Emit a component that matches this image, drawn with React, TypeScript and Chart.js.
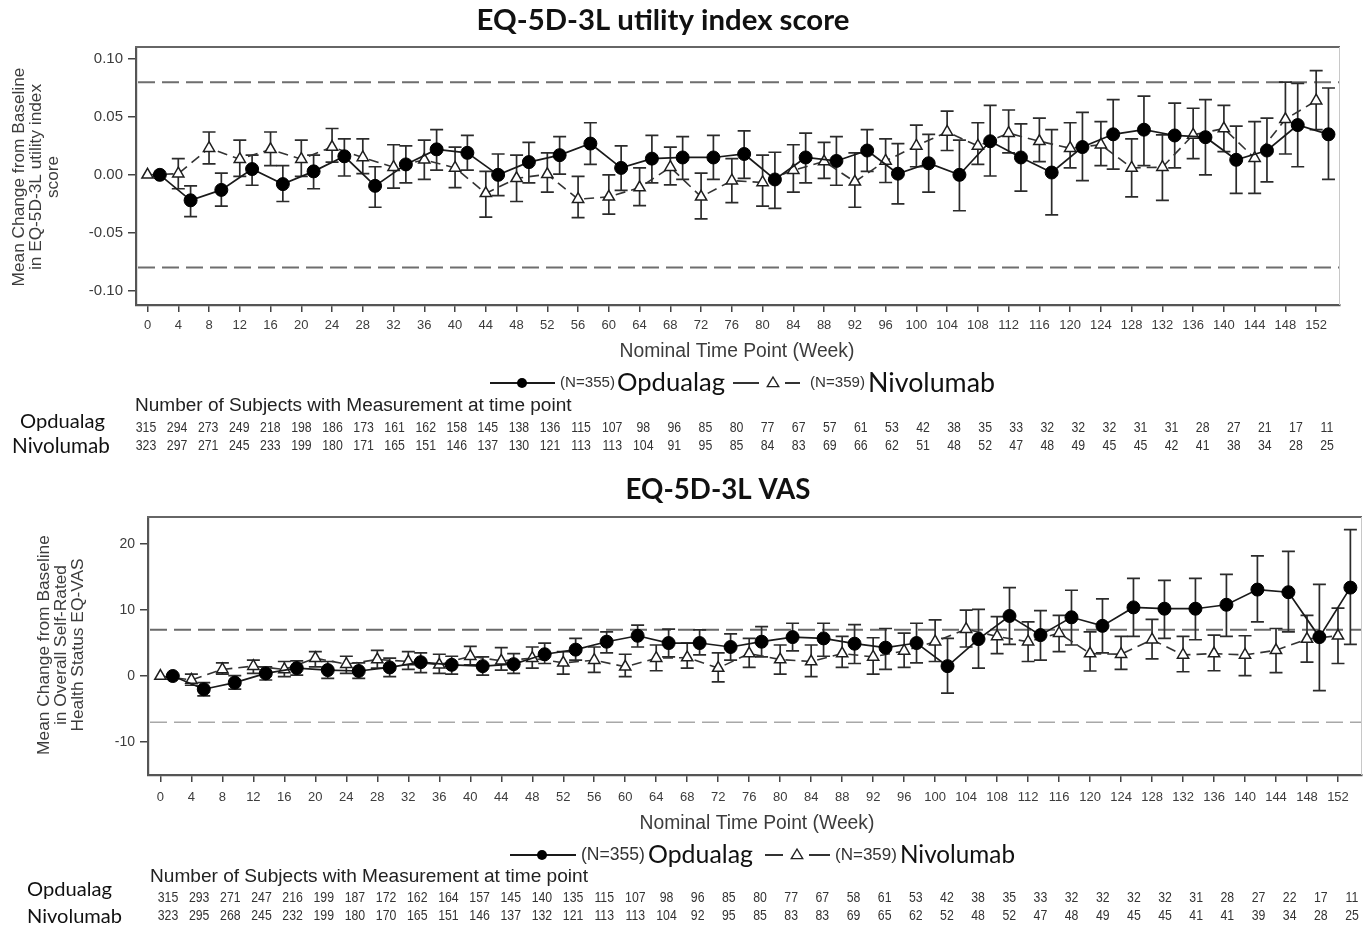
import React, { useEffect, useRef } from "react";
import { Chart, registerables } from "chart.js";

Chart.register(...registerables);

// ---------------- data ----------------
const WEEKS = [0, 4, 8, 12, 16, 20, 24, 28, 32, 36, 40, 44, 48, 52, 56, 60, 64, 68, 72, 76, 80, 84, 88, 92, 96, 100, 104, 108, 112, 116, 120, 124, 128, 132, 136, 140, 144, 148, 152];

// EQ-5D-3L utility index score
const UTIL_OPD_MEAN = [0, -0.022, -0.013, 0.005, -0.008, 0.003, 0.016, -0.0095, 0.009, 0.022, 0.019, 0.0, 0.011, 0.017, 0.027, 0.006, 0.014, 0.015, 0.015, 0.018, -0.004, 0.015, 0.012, 0.021, 0.001, 0.010, 0.0, 0.029, 0.015, 0.002, 0.024, 0.035, 0.039, 0.034, 0.0325, 0.013, 0.021, 0.043, 0.035];
const UTIL_OPD_LO = [null, -0.036, -0.027, -0.009, -0.023, -0.012, -0.001, -0.028, -0.007, 0.004, 0.004, -0.018, -0.007, 0.0006, 0.009, -0.0135, -0.007, -0.004, -0.004, -0.003, -0.029, -0.007, -0.009, 0.003, -0.025, -0.015, -0.031, -0.001, -0.014, -0.0345, -0.005, 0.005, 0.008, 0.006, 0.0, -0.016, -0.006, 0.007, -0.004];
const UTIL_OPD_HI = [null, -0.0095, 0.0014, 0.017, 0.008, 0.017, 0.031, 0.007, 0.025, 0.039, 0.034, 0.018, 0.028, 0.033, 0.045, 0.025, 0.034, 0.033, 0.034, 0.038, 0.0195, 0.036, 0.033, 0.039, 0.027, 0.035, 0.030, 0.060, 0.044, 0.039, 0.054, 0.065, 0.068, 0.062, 0.065, 0.042, 0.049, 0.079, 0.075];
const UTIL_NIV_MEAN = [0, 0.001, 0.023, 0.0135, 0.022, 0.0135, 0.024, 0.015, 0.0066, 0.013, 0.006, -0.016, -0.003, 0.0005, -0.021, -0.019, -0.011, 0.0066, -0.019, -0.005, -0.0066, 0.004, 0.0115, -0.006, 0.012, 0.025, 0.037, 0.025, 0.036, 0.029, 0.023, 0.026, 0.006, 0.0066, 0.0345, 0.040, 0.0144, 0.048, 0.064];
const UTIL_NIV_LO = [null, -0.012, 0.0095, -0.0014, 0.008, -0.0014, 0.011, 0.001, -0.0115, -0.004, -0.011, -0.0365, -0.023, -0.015, -0.037, -0.034, -0.0265, -0.0086, -0.038, -0.024, -0.027, -0.015, -0.003, -0.028, -0.0066, 0.007, 0.021, 0.009, 0.019, 0.0115, 0.006, 0.008, -0.019, -0.022, 0.014, 0.020, -0.016, 0.018, 0.039];
const UTIL_NIV_HI = [null, 0.014, 0.037, 0.030, 0.037, 0.030, 0.040, 0.031, 0.026, 0.030, 0.024, 0.003, 0.017, 0.019, -0.0014, 0.0, 0.006, 0.024, 0.0014, 0.014, 0.017, 0.026, 0.028, 0.019, 0.031, 0.043, 0.055, 0.045, 0.056, 0.049, 0.045, 0.046, 0.031, 0.0345, 0.0575, 0.060, 0.046, 0.080, 0.090];
const UTIL_OPD_N = [315, 294, 273, 249, 218, 198, 186, 173, 161, 162, 158, 145, 138, 136, 115, 107, 98, 96, 85, 80, 77, 67, 57, 61, 53, 42, 38, 35, 33, 32, 32, 32, 31, 31, 28, 27, 21, 17, 11];
const UTIL_NIV_N = [323, 297, 271, 245, 233, 199, 180, 171, 165, 151, 146, 137, 130, 121, 113, 113, 104, 91, 95, 85, 84, 83, 69, 66, 62, 51, 48, 52, 47, 48, 49, 45, 45, 42, 41, 38, 34, 28, 25];
const UTIL_Y_TICKS = [-0.1, -0.05, 0, 0.05, 0.1];
const UTIL_REF = [0.08, -0.08];

// EQ-5D-3L VAS
const VAS_OPD_MEAN = [0, -2.0, -1.0, 0.4, 1.2, 0.9, 0.76, 1.3, 2.1, 1.7, 1.5, 1.8, 3.3, 4.0, 5.2, 6.1, 5.0, 5.0, 4.4, 5.2, 5.9, 5.7, 4.9, 4.3, 5.0, 1.5, 5.6, 9.1, 6.2, 8.9, 7.6, 10.4, 10.2, 10.2, 10.8, 13.1, 12.7, 5.9, 13.4];
const VAS_OPD_LO = [null, -3.0, -2.0, -0.6, 0.15, -0.35, -0.35, -0.1, 0.5, 0.3, 0.15, 0.4, 1.9, 2.4, 3.5, 4.4, 2.9, 3.2, 2.4, 2.9, 3.8, 3.0, 1.9, 1.0, 2.0, -2.6, 1.2, 4.8, 2.4, 4.7, 3.5, 6.0, 5.7, 5.5, 6.0, 8.2, 6.7, -2.2, 4.8];
const VAS_OPD_HI = [null, -1.0, 0.05, 1.4, 2.3, 2.2, 2.0, 2.7, 3.5, 3.0, 2.9, 3.4, 5.0, 5.7, 6.7, 7.7, 7.1, 7.0, 6.4, 7.5, 8.0, 8.0, 7.8, 7.2, 8.0, 5.7, 10.1, 13.4, 9.9, 13.0, 11.7, 14.8, 14.5, 14.8, 15.4, 18.2, 18.9, 13.9, 22.2];
const VAS_NIV_MEAN = [0, -0.6, 1.0, 1.5, 1.0, 2.7, 1.8, 2.5, 2.2, 1.7, 3.0, 2.3, 2.7, 2.0, 2.4, 1.4, 2.7, 2.8, 1.2, 3.4, 2.5, 2.2, 3.4, 2.9, 3.8, 5.2, 7.1, 6.0, 5.2, 6.5, 3.4, 3.3, 5.5, 3.2, 3.4, 3.2, 3.9, 5.6, 6.1];
const VAS_NIV_LO = [null, -1.4, 0.3, 0.4, -0.1, 1.4, 0.4, 1.2, 1.0, 0.4, 1.7, 0.9, 1.2, 0.3, 0.55, -0.1, 0.8, 1.2, -0.9, 1.3, 0.3, -0.1, 1.3, 0.3, 1.3, 2.2, 4.4, 3.4, 2.2, 3.7, 0.76, 1.0, 2.6, 0.65, 0.8, 0.05, 0.5, 2.1, 1.9];
const VAS_NIV_HI = [null, 0.3, 2.0, 2.4, 2.2, 3.7, 3.0, 3.9, 3.7, 3.3, 4.5, 4.3, 4.4, 3.7, 4.4, 3.3, 4.7, 5.0, 3.5, 5.7, 4.7, 4.7, 6.0, 5.8, 6.5, 8.5, 10.0, 9.0, 8.2, 9.2, 6.7, 6.0, 8.6, 6.0, 6.2, 6.1, 7.2, 9.2, 10.3];
const VAS_OPD_N = [315, 293, 271, 247, 216, 199, 187, 172, 162, 164, 157, 145, 140, 135, 115, 107, 98, 96, 85, 80, 77, 67, 58, 61, 53, 42, 38, 35, 33, 32, 32, 32, 32, 31, 28, 27, 22, 17, 11];
const VAS_NIV_N = [323, 295, 268, 245, 232, 199, 180, 170, 165, 151, 146, 137, 132, 121, 113, 113, 104, 92, 95, 85, 83, 83, 69, 65, 62, 52, 48, 52, 47, 48, 49, 45, 45, 41, 41, 39, 34, 28, 25];
const VAS_Y_TICKS = [-10, 0, 10, 20];
const VAS_REF = [7, -7];

const SERIES_LABELS = ["Opdualag", "Nivolumab"];
const SERIES_N = ["(N=355)", "(N=359)"];
const X_TITLE = "Nominal Time Point (Week)";
const TABLE_HEADER = "Number of Subjects with Measurement at time point";

// ---------------- layout / style ----------------
const ARIAL = '"Liberation Sans", Arial, sans-serif';
const CALIBRI = 'Lato, "Noto Sans", sans-serif';
const NARROW = '"Liberation Sans Narrow", "Liberation Sans", Arial, sans-serif';

type Panel = {
  canvasTop: number;
  height: number;
  area: { left: number; right: number; top: number; bottom: number };
  xMin: number;
  xMax: number;
  yMin: number;
  yMax: number;
  yTicks: number[];
  yDecimals: number;
  yTickSize: number;
  xTickPad: number;
  refs: number[];
  refStyles: { color: string; width: number }[];
  dodge: number;
  opd: { mean: number[]; lo: (number | null)[]; hi: (number | null)[]; n: number[] };
  niv: { mean: number[]; lo: (number | null)[]; hi: (number | null)[]; n: number[] };
  title: { text: string; cx: number; cy: number; w: number };
  yTitle: { lines: string[]; xs: number[]; cy: number; w: number };
  xTitle: { cx: number; cy: number; w: number };
  legend: {
    cy: number;
    opdLine: [number, number];
    opdMarker: number;
    opdN: [number, number];
    opdName: [number, number];
    nivLine: [number, number];
    nivMarker: number;
    nivN: [number, number];
    nivName: [number, number];
  };
  header: { x: number; cy: number; w: number };
  rowLabels: { x: number; cy: number; w: number }[];
  numbers: { x0: number; x1: number; ys: number[] };
};

const PANELS: Panel[] = [
  {
    canvasTop: 0,
    height: 462,
    area: { left: 136, right: 1340, top: 47, bottom: 305 },
    xMin: -1.5,
    xMax: 155.1,
    yMin: -0.1124,
    yMax: 0.1104,
    yTicks: UTIL_Y_TICKS,
    yDecimals: 2,
    yTickSize: 15,
    xTickPad: 6,
    refs: UTIL_REF,
    refStyles: [
      { color: "#6e6e6e", width: 2 },
      { color: "#6e6e6e", width: 2 },
    ],
    dodge: 1.6,
    opd: { mean: UTIL_OPD_MEAN, lo: UTIL_OPD_LO, hi: UTIL_OPD_HI, n: UTIL_OPD_N },
    niv: { mean: UTIL_NIV_MEAN, lo: UTIL_NIV_LO, hi: UTIL_NIV_HI, n: UTIL_NIV_N },
    title: { text: "EQ-5D-3L utility index score", cx: 663, cy: 21, w: 373 },
    yTitle: { lines: ["Mean Change from Baseline", "in EQ-5D-3L utility index", "score"], xs: [19, 36, 53], cy: 177, w: 219 },
    xTitle: { cx: 737, cy: 352, w: 235 },
    legend: {
      cy: 383,
      opdLine: [490, 555],
      opdMarker: 522,
      opdN: [560, 55],
      opdName: [617, 108],
      nivLine: [733, 800],
      nivMarker: 773,
      nivN: [810, 55],
      nivName: [868, 127],
    },
    header: { x: 135, cy: 406, w: 437 },
    rowLabels: [
      { x: 20, cy: 422, w: 85 },
      { x: 12, cy: 446, w: 98 },
    ],
    numbers: { x0: 146, x1: 1327, ys: [428, 446] },
  },
  {
    canvasTop: 462,
    height: 466,
    area: { left: 148, right: 1365, top: 517, bottom: 775 },
    xMin: -1.6,
    xMax: 155.1,
    yMin: -15,
    yMax: 24.1,
    yTicks: VAS_Y_TICKS,
    yDecimals: 0,
    yTickSize: 14,
    xTickPad: 8,
    refs: VAS_REF,
    refStyles: [
      { color: "#6a6a6a", width: 2 },
      { color: "#a8a8a8", width: 1.6 },
    ],
    dodge: 1.6,
    opd: { mean: VAS_OPD_MEAN, lo: VAS_OPD_LO, hi: VAS_OPD_HI, n: VAS_OPD_N },
    niv: { mean: VAS_NIV_MEAN, lo: VAS_NIV_LO, hi: VAS_NIV_HI, n: VAS_NIV_N },
    title: { text: "EQ-5D-3L VAS", cx: 718, cy: 490, w: 185 },
    yTitle: { lines: ["Mean Change from Baseline", "in Overall Self-Rated", "Health Status EQ-VAS"], xs: [44, 61, 78], cy: 645, w: 220 },
    xTitle: { cx: 757, cy: 824, w: 235 },
    legend: {
      cy: 855,
      opdLine: [510, 576],
      opdMarker: 542,
      opdN: [581, 64],
      opdName: [648, 105],
      nivLine: [765, 830],
      nivMarker: 797,
      nivN: [835, 62],
      nivName: [900, 115],
    },
    header: { x: 150, cy: 877, w: 438 },
    rowLabels: [
      { x: 27, cy: 890, w: 85 },
      { x: 27, cy: 917, w: 95 },
    ],
    numbers: { x0: 168, x1: 1352, ys: [898, 916] },
  },
];

const W = 1370;

function fitSize(ctx: CanvasRenderingContext2D, text: string, width: number, family: string, weight = "normal") {
  ctx.font = `${weight} 100px ${family}`;
  const m = ctx.measureText(text).width;
  return (100 * width) / m;
}

function drawTriangle(ctx: CanvasRenderingContext2D, x: number, y: number, r: number) {
  ctx.beginPath();
  ctx.moveTo(x, y - r);
  ctx.lineTo(x + r * 0.95, y + r * 0.6);
  ctx.lineTo(x - r * 0.95, y + r * 0.6);
  ctx.closePath();
  ctx.fillStyle = "#fff";
  ctx.fill();
  ctx.strokeStyle = "#222";
  ctx.lineWidth = 1.4;
  ctx.setLineDash([]);
  ctx.stroke();
}

function makeOverlay(p: Panel) {
  const off = p.canvasTop;
  return {
    id: "overlay",
    beforeDatasetsDraw(chart: any) {
      const ctx: CanvasRenderingContext2D = chart.ctx;
      const { left, right, top, bottom } = chart.chartArea;
      const xs = chart.scales.x;
      const ys = chart.scales.y;
      ctx.save();
      ctx.beginPath();
      ctx.rect(left, top, right - left, bottom - top);
      ctx.clip();
      p.refs.forEach((v, i) => {
        const st = p.refStyles[i];
        ctx.strokeStyle = st.color;
        ctx.lineWidth = st.width;
        ctx.setLineDash([17, 7]);
        const y = ys.getPixelForValue(v);
        ctx.beginPath();
        ctx.moveTo(left + 2, y);
        ctx.lineTo(right, y);
        ctx.stroke();
      });
      ctx.setLineDash([]);
      const series = [
        { dx: p.dodge, s: p.opd },
        { dx: 0, s: p.niv },
      ];
      ctx.strokeStyle = "#2b2b2b";
      ctx.lineWidth = 1.7;
      const cap = 6.5;
      series.forEach(({ dx, s }) => {
        WEEKS.forEach((w, i) => {
          const lo = s.lo[i];
          const hi = s.hi[i];
          if (lo == null || hi == null) return;
          const px = xs.getPixelForValue(w + dx);
          const y1 = ys.getPixelForValue(lo);
          const y2 = ys.getPixelForValue(hi);
          ctx.beginPath();
          ctx.moveTo(px, y1);
          ctx.lineTo(px, y2);
          ctx.moveTo(px - cap, y1);
          ctx.lineTo(px + cap, y1);
          ctx.moveTo(px - cap, y2);
          ctx.lineTo(px + cap, y2);
          ctx.stroke();
        });
      });
      ctx.restore();
    },
    afterDraw(chart: any) {
      const ctx: CanvasRenderingContext2D = chart.ctx;
      const { left, right, top, bottom } = chart.chartArea;
      ctx.save();
      // frame: top and right
      ctx.strokeStyle = "#666";
      ctx.lineWidth = 2.2;
      ctx.beginPath();
      ctx.moveTo(left - 1, top);
      ctx.lineTo(right, top);
      ctx.stroke();
      ctx.strokeStyle = "#c8c8c8";
      ctx.lineWidth = 1;
      ctx.beginPath();
      ctx.moveTo(right - 0.5, top);
      ctx.lineTo(right - 0.5, bottom);
      ctx.stroke();

      ctx.textBaseline = "middle";
      // title
      {
        const t = p.title;
        const sz = fitSize(ctx, t.text, t.w, CALIBRI, "bold");
        ctx.font = `bold ${sz}px ${CALIBRI}`;
        ctx.fillStyle = "#111";
        ctx.textAlign = "center";
        ctx.fillText(t.text, t.cx, t.cy - off);
      }
      // y title (rotated)
      {
        const t = p.yTitle;
        const sz = fitSize(ctx, t.lines[0], t.w, ARIAL);
        ctx.font = `${sz}px ${ARIAL}`;
        ctx.fillStyle = "#3c3c3c";
        ctx.textAlign = "center";
        t.lines.forEach((line, i) => {
          ctx.save();
          ctx.translate(t.xs[i], t.cy - off);
          ctx.rotate(-Math.PI / 2);
          ctx.fillText(line, 0, 0);
          ctx.restore();
        });
      }
      // x title
      {
        const t = p.xTitle;
        const sz = fitSize(ctx, X_TITLE, t.w, ARIAL);
        ctx.font = `${sz}px ${ARIAL}`;
        ctx.fillStyle = "#3c3c3c";
        ctx.textAlign = "center";
        ctx.fillText(X_TITLE, t.cx, t.cy - off);
      }
      // legend
      {
        const L = p.legend;
        const cy = L.cy - off;
        ctx.strokeStyle = "#1a1a1a";
        ctx.lineWidth = 1.8;
        ctx.setLineDash([]);
        ctx.beginPath();
        ctx.moveTo(L.opdLine[0], cy);
        ctx.lineTo(L.opdLine[1], cy);
        ctx.stroke();
        ctx.fillStyle = "#000";
        ctx.beginPath();
        ctx.arc(L.opdMarker, cy, 5, 0, Math.PI * 2);
        ctx.fill();
        // nivolumab dashed
        ctx.strokeStyle = "#333";
        ctx.beginPath();
        ctx.moveTo(L.nivLine[0], cy);
        ctx.lineTo(L.nivMarker - 14, cy);
        ctx.moveTo(L.nivMarker + 12, cy);
        ctx.lineTo(L.nivLine[1], cy);
        ctx.stroke();
        drawTriangle(ctx, L.nivMarker, cy, 6);

        ctx.textAlign = "left";
        ctx.fillStyle = "#333";
        let sz = fitSize(ctx, SERIES_N[0], L.opdN[1], ARIAL);
        ctx.font = `${sz}px ${ARIAL}`;
        ctx.fillText(SERIES_N[0], L.opdN[0], cy);
        sz = fitSize(ctx, SERIES_N[1], L.nivN[1], ARIAL);
        ctx.font = `${sz}px ${ARIAL}`;
        ctx.fillText(SERIES_N[1], L.nivN[0], cy);
        ctx.fillStyle = "#111";
        sz = fitSize(ctx, SERIES_LABELS[0], L.opdName[1], CALIBRI);
        ctx.font = `${sz}px ${CALIBRI}`;
        ctx.fillText(SERIES_LABELS[0], L.opdName[0], cy);
        sz = fitSize(ctx, SERIES_LABELS[1], L.nivName[1], CALIBRI);
        ctx.font = `${sz}px ${CALIBRI}`;
        ctx.fillText(SERIES_LABELS[1], L.nivName[0], cy);
      }
      // table header
      {
        const h = p.header;
        const sz = fitSize(ctx, TABLE_HEADER, h.w, ARIAL);
        ctx.font = `${sz}px ${ARIAL}`;
        ctx.fillStyle = "#222";
        ctx.textAlign = "left";
        ctx.fillText(TABLE_HEADER, h.x, h.cy - off);
      }
      // row labels
      p.rowLabels.forEach((r, i) => {
        const sz = fitSize(ctx, SERIES_LABELS[i], r.w, CALIBRI);
        ctx.font = `${sz}px ${CALIBRI}`;
        ctx.fillStyle = "#111";
        ctx.textAlign = "left";
        ctx.fillText(SERIES_LABELS[i], r.x, r.cy - off);
      });
      // numbers
      {
        const nb = p.numbers;
        const rows = [p.opd.n, p.niv.n];
        ctx.fillStyle = "#333";
        ctx.textAlign = "center";
        const step = (nb.x1 - nb.x0) / (WEEKS.length - 1);
        rows.forEach((row, ri) => {
          row.forEach((v, i) => {
            const x = nb.x0 + step * i;
            ctx.save();
            ctx.translate(x, nb.ys[ri] - off);
            ctx.scale(0.82, 1);
            ctx.font = `15px ${NARROW}`;
            ctx.fillText(String(v), 0, 0);
            ctx.restore();
          });
        });
      }
      ctx.restore();
    },
  };
}

function buildChart(canvas: HTMLCanvasElement, p: Panel) {
  const areaTop = p.area.top - p.canvasTop;
  const areaBottom = p.area.bottom - p.canvasTop;
  const opdData = WEEKS.map((w, i) => ({ x: w + p.dodge, y: p.opd.mean[i] }));
  const nivData = WEEKS.map((w, i) => ({ x: w, y: p.niv.mean[i] }));
  return new Chart(canvas, {
    type: "line",
    data: {
      datasets: [
        {
          label: SERIES_LABELS[1],
          data: nivData,
          borderColor: "#333",
          borderWidth: 1.6,
          borderDash: [10, 6],
          pointStyle: "triangle",
          pointRadius: 6.5,
          pointBackgroundColor: "#fff",
          pointBorderColor: "#1e1e1e",
          pointBorderWidth: 1.5,
          tension: 0,
          order: 2,
        },
        {
          label: SERIES_LABELS[0],
          data: opdData,
          borderColor: "#1a1a1a",
          borderWidth: 1.7,
          pointStyle: "circle",
          pointRadius: 6.5,
          pointBackgroundColor: "#000",
          pointBorderColor: "#000",
          pointBorderWidth: 1,
          tension: 0,
          order: 1,
        },
      ],
    },
    options: {
      responsive: false,
      animation: false,
      events: [],
      layout: { padding: { left: 0, top: areaTop, right: W - p.area.right, bottom: 0 } },
      plugins: {
        legend: { display: false },
        title: { display: false },
        tooltip: { enabled: false },
      },
      scales: {
        x: {
          type: "linear",
          min: p.xMin,
          max: p.xMax,
          afterBuildTicks: (s: any) => {
            s.ticks = WEEKS.map((v) => ({ value: v }));
          },
          afterFit: (s: any) => {
            s.height = p.height - areaBottom;
          },
          grid: { drawOnChartArea: false, drawTicks: true, tickLength: 7, color: "#444", lineWidth: 1.5 },
          border: { display: true, color: "#555", width: 2.2 },
          ticks: {
            autoSkip: false,
            maxRotation: 0,
            padding: p.xTickPad,
            color: "#3c3c3c",
            font: { family: ARIAL, size: 13 },
            callback: (v: any) => String(v),
          },
        },
        y: {
          type: "linear",
          min: p.yMin,
          max: p.yMax,
          afterBuildTicks: (s: any) => {
            s.ticks = p.yTicks.map((v) => ({ value: v }));
          },
          afterFit: (s: any) => {
            s.width = p.area.left;
          },
          grid: { drawOnChartArea: false, drawTicks: true, tickLength: 8, color: "#444", lineWidth: 1.5 },
          border: { display: true, color: "#555", width: 2.2 },
          ticks: {
            padding: 5,
            color: "#3c3c3c",
            font: { family: ARIAL, size: p.yTickSize },
            callback: (v: any) => Number(v).toFixed(p.yDecimals),
          },
        },
      },
    },
    plugins: [makeOverlay(p)],
  } as any);
}

function PanelCanvas({ p }: { p: Panel }) {
  const ref = useRef<HTMLCanvasElement | null>(null);
  useEffect(() => {
    if (!ref.current) return;
    const c = buildChart(ref.current, p);
    return () => c.destroy();
  }, [p]);
  return (
    <canvas
      ref={ref}
      width={W}
      height={p.height}
      style={{ position: "absolute", left: 0, top: p.canvasTop, width: W, height: p.height, display: "block" }}
    />
  );
}

export default function App() {
  return (
    <div style={{ position: "absolute", left: 0, top: 0, width: W, height: 928, background: "#fff", overflow: "hidden" }}>
      {PANELS.map((p, i) => (
        <PanelCanvas key={i} p={p} />
      ))}
    </div>
  );
}
